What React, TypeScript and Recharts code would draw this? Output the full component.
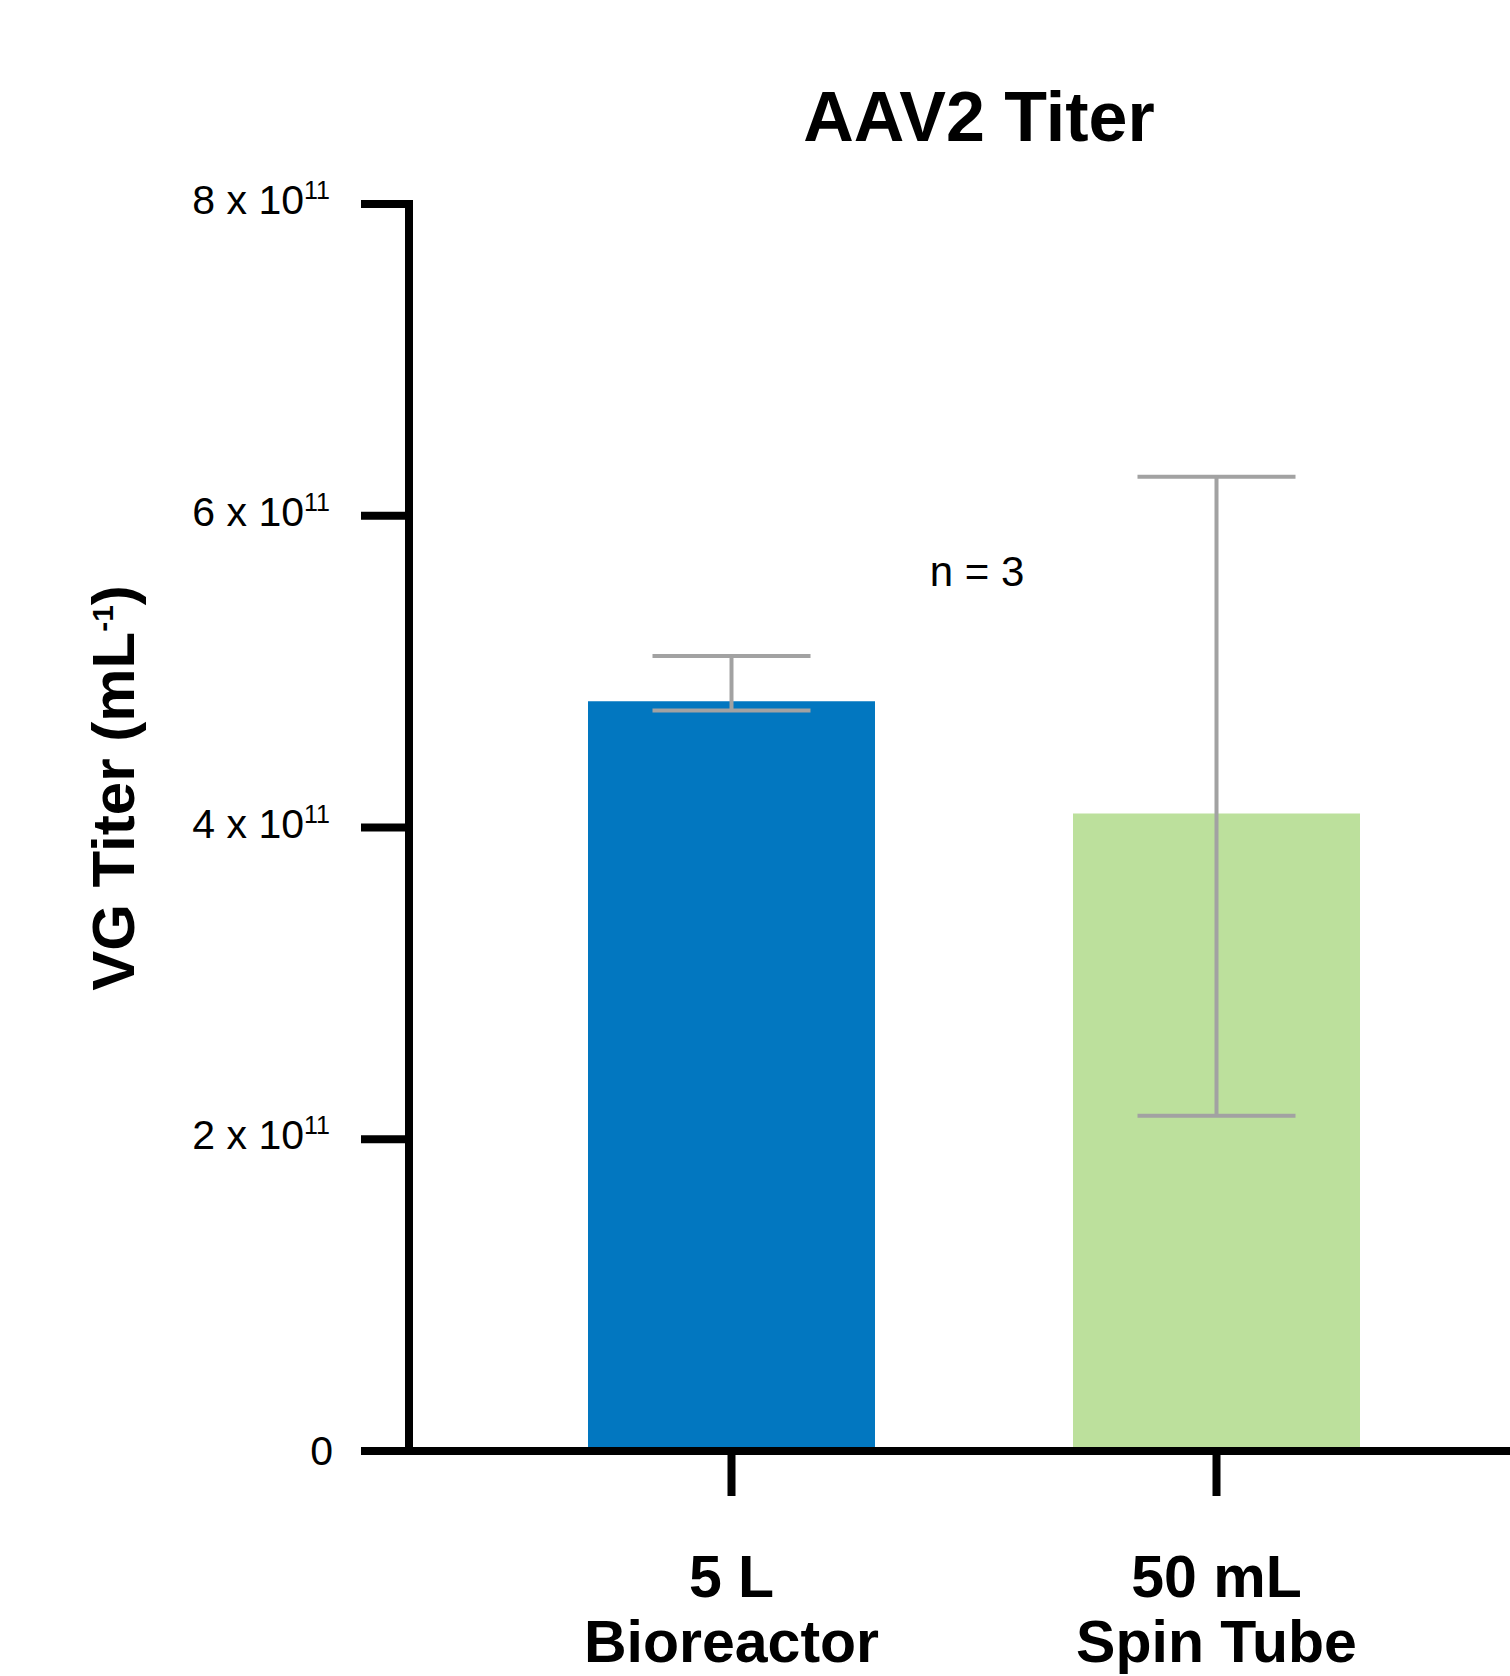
import React from 'react';
import { BarChart, Bar, XAxis, YAxis, ErrorBar, Cell } from 'recharts';

// values in vg/mL
const categories = [['5 L', 'Bioreactor'], ['50 mL', 'Spin Tube']];
const titers = [4.81e11, 4.09e11];
const errLow = [0.06e11, 1.94e11];
const errHigh = [0.29e11, 2.16e11];
const barColors = ['#0277c0', '#bce09c'];
const yTicks = [0, 2e11, 4e11, 6e11, 8e11];

const data = categories.map((c, i) => ({
  name: c.join('|'),
  titer: titers[i],
  err: [errLow[i], errHigh[i]],
}));

const FONT = '"Liberation Sans", Arial, Helvetica, sans-serif';

const YTick = (props: any) => {
  const { x, y, payload } = props;
  const v = payload.value;
  if (v === 0) {
    return (
      <text x={x + 3} y={y + 14} textAnchor="end" fontSize={41} fill="#000" fontFamily={FONT}>0</text>
    );
  }
  const m = Math.round(v / 1e11);
  return (
    <text x={x} y={y + 10} textAnchor="end" fontSize={41} fill="#000" fontFamily={FONT}>
      {`${m} x 10`}
      <tspan fontSize={25} dy={-15}>11</tspan>
    </text>
  );
};

const XTick = (props: any) => {
  const { x, y, payload } = props;
  const [l1, l2] = String(payload.value).split('|');
  return (
    <g>
      <text x={x} y={y + 99} textAnchor="middle" fontSize={59} fontWeight="bold" fill="#000" fontFamily={FONT}>{l1}</text>
      <text x={x} y={y + 164} textAnchor="middle" fontSize={59} fontWeight="bold" fill="#000" fontFamily={FONT}>{l2}</text>
    </g>
  );
};

export default function App() {
  return (
    <div style={{ position: 'absolute', left: 0, top: 0, width: 1510, height: 1676, background: '#fff', fontFamily: FONT }}>
      <BarChart width={1510} height={1676} data={data} margin={{ top: 204, right: 0, left: 0, bottom: 0 }}>
        <XAxis
          dataKey="name"
          height={225}
          padding={{ left: 80, right: 51 }}
          axisLine={{ stroke: '#000', strokeWidth: 8, strokeLinecap: 'square' }}
          tickLine={{ stroke: '#000', strokeWidth: 8 }}
          tickSize={45}
          tick={<XTick />}
          interval={0}
        />
        <YAxis
          width={409}
          domain={[0, 8e11]}
          ticks={yTicks}
          axisLine={{ stroke: '#000', strokeWidth: 8, strokeLinecap: 'square' }}
          tickLine={{ stroke: '#000', strokeWidth: 8 }}
          tickSize={48}
          tickMargin={31}
          tick={<YTick />}
          interval={0}
        />
        <Bar dataKey="titer" barSize={287} isAnimationActive={false}>
          {data.map((d, i) => (
            <Cell key={d.name} fill={barColors[i]} />
          ))}
          <ErrorBar dataKey="err" direction="y" width={79} stroke="#a2a2a2" strokeWidth={4} isAnimationActive={false} />
        </Bar>
      </BarChart>

      <div style={{ position: 'absolute', left: 979, top: 117, transform: 'translate(-50%, -50%)', fontSize: 70, fontWeight: 'bold', whiteSpace: 'nowrap' }}>
        AAV2 Titer
      </div>
      <div style={{ position: 'absolute', left: 977, top: 572, transform: 'translate(-50%, -50%)', fontSize: 42, whiteSpace: 'nowrap' }}>
        n = 3
      </div>
      <div style={{ position: 'absolute', left: 114, top: 788, transform: 'translate(-50%, -50%) rotate(-90deg)', fontSize: 60, fontWeight: 'bold', whiteSpace: 'nowrap', lineHeight: 1 }}>
        VG Titer (mL<sup style={{ fontSize: 30, lineHeight: 0 }}>-1</sup>)
      </div>
    </div>
  );
}
